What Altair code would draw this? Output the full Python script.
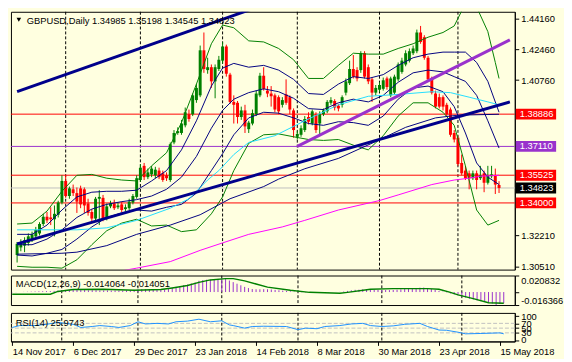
import altair as alt
import pandas as pd

# ---------------------------------------------------------------- data
bar_open = [1.3113, 1.3155, 1.3165, 1.3180, 1.3200, 1.3216, 1.3232, 1.3284, 1.3324, 1.3320,
            1.3310, 1.3335, 1.3402, 1.3521, 1.3438, 1.3475, 1.3454, 1.3480, 1.3475, 1.3397,
            1.3350, 1.3314, 1.3423, 1.3428, 1.3314, 1.3381, 1.3397, 1.3376, 1.3392, 1.3366,
            1.3371, 1.3402, 1.3433, 1.3526, 1.3604, 1.3542, 1.3557, 1.3552, 1.3578, 1.3563,
            1.3552, 1.3526, 1.3733, 1.3785, 1.3785, 1.3827, 1.3888, 1.3888, 1.3966, 1.3992,
            1.4240, 1.4131, 1.4147, 1.4069, 1.4137, 1.4183, 1.4261, 1.4106, 1.3956, 1.3951,
            1.3873, 1.3909, 1.3806, 1.3837, 1.3888, 1.3992, 1.4100, 1.4018, 1.4002, 1.3992,
            1.3982, 1.3940, 1.3997, 1.3982, 1.3909, 1.3764, 1.3775, 1.3801, 1.3873, 1.3837,
            1.3888, 1.3837, 1.3888, 1.3904, 1.3951, 1.3961, 1.3935, 1.3940, 1.4007, 1.4059,
            1.4137, 1.4131, 1.4131, 1.4224, 1.4147, 1.4080, 1.4007, 1.4023, 1.4028, 1.4085,
            1.3992, 1.4007, 1.4080, 1.4121, 1.4162, 1.4183, 1.4224, 1.4235, 1.4338, 1.4312,
            1.4199, 1.4085, 1.4002, 1.3982, 1.3982, 1.3940, 1.3914, 1.3785, 1.3759, 1.3620,
            1.3578, 1.3563, 1.3536, 1.3563, 1.3536, 1.3563, 1.3511, 1.3547, 1.3552, 1.34985]
bar_high = [1.3185, 1.3200, 1.3211, 1.3232, 1.3242, 1.3268, 1.3294, 1.3340, 1.3350, 1.3376,
            1.3386, 1.3412, 1.3552, 1.3552, 1.3490, 1.3501, 1.3485, 1.3495, 1.3485, 1.3423,
            1.3366, 1.3433, 1.3470, 1.3444, 1.3397, 1.3412, 1.3418, 1.3402, 1.3407, 1.3392,
            1.3423, 1.3449, 1.3552, 1.3614, 1.3620, 1.3589, 1.3604, 1.3599, 1.3594, 1.3578,
            1.3568, 1.3733, 1.3801, 1.3816, 1.3857, 1.3925, 1.3914, 1.4002, 1.4054, 1.4266,
            1.4338, 1.4199, 1.4162, 1.4162, 1.4209, 1.4286, 1.4271, 1.4116, 1.3992, 1.3961,
            1.3930, 1.3940, 1.3852, 1.3914, 1.4018, 1.4116, 1.4147, 1.4043, 1.4043, 1.4002,
            1.3992, 1.3982, 1.4080, 1.3992, 1.3920, 1.3795, 1.3827, 1.3878, 1.3899, 1.3914,
            1.3899, 1.3904, 1.3920, 1.3966, 1.3982, 1.3971, 1.3945, 1.3992, 1.4085, 1.4183,
            1.4214, 1.4147, 1.4235, 1.4235, 1.4162, 1.4090, 1.4049, 1.4064, 1.4090, 1.4095,
            1.4095, 1.4106, 1.4173, 1.4199, 1.4240, 1.4250, 1.4266, 1.4354, 1.4374, 1.4323,
            1.4209, 1.4095, 1.4018, 1.4002, 1.3992, 1.3951, 1.3925, 1.3801, 1.3770, 1.3666,
            1.3604, 1.3578, 1.3578, 1.3578, 1.3604, 1.3578, 1.3604, 1.3604, 1.3589, 1.35198]
bar_low = [1.3072, 1.3134, 1.3129, 1.3165, 1.3185, 1.3206, 1.3221, 1.3273, 1.3289, 1.3278,
           1.3216, 1.3320, 1.3392, 1.3428, 1.3423, 1.3438, 1.3345, 1.3371, 1.3345, 1.3330,
           1.3299, 1.3304, 1.3278, 1.3299, 1.3304, 1.3371, 1.3361, 1.3366, 1.3350, 1.3355,
           1.3361, 1.3392, 1.3423, 1.3516, 1.3526, 1.3531, 1.3542, 1.3536, 1.3531, 1.3516,
           1.3521, 1.3516, 1.3723, 1.3775, 1.3775, 1.3816, 1.3847, 1.3878, 1.3951, 1.3982,
           1.4116, 1.4111, 1.4033, 1.3976, 1.4126, 1.4168, 1.4095, 1.3945, 1.3837, 1.3837,
           1.3857, 1.3785, 1.3785, 1.3827, 1.3878, 1.3982, 1.4018, 1.3982, 1.3930, 1.3899,
           1.3888, 1.3925, 1.3940, 1.3888, 1.3759, 1.3749, 1.3764, 1.3790, 1.3832, 1.3827,
           1.3785, 1.3775, 1.3878, 1.3894, 1.3940, 1.3909, 1.3904, 1.3925, 1.3992, 1.4049,
           1.4085, 1.4069, 1.4116, 1.4085, 1.4054, 1.3956, 1.3992, 1.4012, 1.4018, 1.4023,
           1.3982, 1.3997, 1.4069, 1.4111, 1.4152, 1.4173, 1.4214, 1.4224, 1.4276, 1.4188,
           1.4069, 1.3997, 1.3920, 1.3920, 1.3909, 1.3878, 1.3764, 1.3733, 1.3604, 1.3552,
           1.3526, 1.3475, 1.3526, 1.3475, 1.3526, 1.3459, 1.3501, 1.3536, 1.3449, 1.34545]
bar_close = [1.3175, 1.3185, 1.3195, 1.3216, 1.3227, 1.3252, 1.3284, 1.3324, 1.3304, 1.3310,
             1.3340, 1.3402, 1.3521, 1.3438, 1.3480, 1.3454, 1.3407, 1.3392, 1.3386, 1.3345,
             1.3314, 1.3423, 1.3433, 1.3314, 1.3381, 1.3397, 1.3371, 1.3386, 1.3361, 1.3376,
             1.3407, 1.3438, 1.3536, 1.3594, 1.3542, 1.3568, 1.3589, 1.3583, 1.3542, 1.3526,
             1.3536, 1.3723, 1.3785, 1.3795, 1.3837, 1.3899, 1.3862, 1.3992, 1.4033, 1.4240,
             1.4137, 1.4147, 1.4069, 1.4147, 1.4188, 1.4261, 1.4111, 1.3956, 1.3940, 1.3873,
             1.3909, 1.3821, 1.3842, 1.3894, 1.4002, 1.4100, 1.4028, 1.4002, 1.3987, 1.3914,
             1.3904, 1.3966, 1.3951, 1.3914, 1.3801, 1.3780, 1.3811, 1.3862, 1.3847, 1.3904,
             1.3801, 1.3888, 1.3909, 1.3956, 1.3966, 1.3925, 1.3920, 1.3982, 1.4069, 1.4137,
             1.4095, 1.4085, 1.4224, 1.4095, 1.4069, 1.4007, 1.4033, 1.4049, 1.4075, 1.4038,
             1.4085, 1.4095, 1.4162, 1.4183, 1.4224, 1.4235, 1.4250, 1.4338, 1.4286, 1.4199,
             1.4080, 1.4007, 1.3930, 1.3930, 1.3930, 1.3888, 1.3775, 1.3749, 1.3614, 1.3563,
             1.3536, 1.3536, 1.3563, 1.3526, 1.3552, 1.3511, 1.3552, 1.3557, 1.3501, 1.34823]

band_idx = [0, 4, 8, 12, 16, 20, 24, 28, 32, 36, 40, 44, 48, 52, 55, 58, 62, 66, 70, 74,
            78, 82, 86, 90, 94, 98, 102, 106, 110, 114, 117, 120, 123, 126, 129]
gup_idx = band_idx[:-1] + [128, 129]
bb_green_up = [1.3284, 1.3289, 1.3355, 1.3464, 1.3552, 1.3557, 1.3536, 1.3526, 1.3521, 1.3604,
               1.3676, 1.3842, 1.4054, 1.4276, 1.4379, 1.4364, 1.4292, 1.4286, 1.4250, 1.4188,
               1.4085, 1.4085, 1.4157, 1.4224, 1.4219, 1.4219, 1.4250, 1.4276, 1.4312, 1.4338,
               1.4374, 1.4498, 1.4478, 1.4343, 1.4173, 1.4085]
bb_navy_up = [1.3227, 1.3227, 1.3278, 1.3361, 1.3433, 1.3459, 1.3464, 1.3464, 1.3470, 1.3521,
              1.3578, 1.3692, 1.3852, 1.4043, 1.4142, 1.4168, 1.4147, 1.4157, 1.4131, 1.4080,
              1.4002, 1.3997, 1.4054, 1.4095, 1.4085, 1.4106, 1.4157, 1.4199, 1.4219, 1.4230,
              1.4230, 1.4230, 1.4173, 1.4069, 1.3899]
bb_mid = [1.3170, 1.3170, 1.3201, 1.3252, 1.3320, 1.3366, 1.3392, 1.3407, 1.3418, 1.3438,
          1.3475, 1.3542, 1.3656, 1.3811, 1.3909, 1.3971, 1.4007, 1.4028, 1.4012, 1.3976,
          1.3919, 1.3914, 1.3951, 1.3971, 1.3956, 1.3992, 1.4064, 1.4116, 1.4131, 1.4121,
          1.4095, 1.4069, 1.3992, 1.3852, 1.3702]
bb_navy_lo = [1.3113, 1.3108, 1.3123, 1.3144, 1.3201, 1.3268, 1.3320, 1.3345, 1.3361, 1.3355,
              1.3376, 1.3392, 1.3454, 1.3578, 1.3671, 1.3775, 1.3868, 1.3899, 1.3894, 1.3868,
              1.3837, 1.3827, 1.3847, 1.3842, 1.3827, 1.3878, 1.3971, 1.4033, 1.4043, 1.4012,
              1.3930, 1.3785, 1.3620, 1.3542, 1.3501]
bb_green_lo = [1.3051, 1.3046, 1.3046, 1.3041, 1.3087, 1.3170, 1.3247, 1.3289, 1.3310, 1.3273,
               1.3278, 1.3242, 1.3252, 1.3340, 1.3433, 1.3578, 1.3728, 1.3775, 1.3780, 1.3764,
               1.3749, 1.3744, 1.3749, 1.3718, 1.3692, 1.3770, 1.3878, 1.3951, 1.3951, 1.3899,
               1.3827, 1.3604, 1.3361, 1.3278, 1.3304]

cyan_idx = [0, 16, 24, 32, 41, 46, 51, 54, 58, 62, 69, 77, 86, 94, 102, 111, 116, 121, 126, 129]
ma_cyan = [1.3252, 1.3252, 1.3263, 1.3304, 1.3371, 1.3423, 1.3526, 1.3578, 1.3666, 1.3733,
           1.3770, 1.3852, 1.3940, 1.3987, 1.3997, 1.4012, 1.4007, 1.3982, 1.3956, 1.3940]
navy_ma_idx = [0, 12, 16, 24, 32, 41, 49, 57, 66, 70, 77, 86, 96, 104, 112, 118, 129]
ma_navy = [1.3118, 1.3123, 1.3129, 1.3165, 1.3227, 1.3278, 1.3335, 1.3423, 1.3490, 1.3531,
           1.3588, 1.3645, 1.3738, 1.3816, 1.3868, 1.3883, 1.3888]
mag_idx = [25, 32, 41, 49, 55, 62, 71, 77, 86, 97, 102, 111, 117, 121, 124, 129]
ma_magenta = [1.3015, 1.3041, 1.3077, 1.3139, 1.3180, 1.3227, 1.3268, 1.3304, 1.3361, 1.3413,
              1.3444, 1.3501, 1.3526, 1.3536, 1.3547, 1.3552]

trend_name = ["low", "low", "high", "high", "violet", "violet"]
trend_i = [0, 131.9, 0, 70, 75, 131.9]
trend_v = [1.3175, 1.3956, 1.4012, 1.4519, 1.3711, 1.4297]

levels = [1.38886, 1.37110, 1.35525, 1.34823, 1.34000]
level_line_col = ["#FF0000", "#9932CC", "#FF0000", "#C0C0C0", "#FF0000"]
level_box_col = ["#FF0000", "#9932CC", "#FF0000", "#000000", "#FF0000"]
price_ticks = [1.4416, 1.4246, 1.4076, 1.3221, 1.3051]

macd_main = [-0.0003, -0.0002, 0.0000, 0.0002, 0.0004,
             0.0005, 0.0007, 0.0009, 0.0010, 0.0011,
             0.0012, 0.0014, 0.0020, 0.0023, 0.0026,
             0.0028, 0.0028, 0.0027, 0.0026, 0.0025,
             0.0022, 0.0023, 0.0023, 0.0020, 0.0020,
             0.0020, 0.0019, 0.0019, 0.0018, 0.0018,
             0.0020, 0.0023, 0.0028, 0.0033, 0.0035,
             0.0036, 0.0037, 0.0038, 0.0037, 0.0035,
             0.0034, 0.0045, 0.0055, 0.0065, 0.0075,
             0.0088, 0.0095, 0.0108, 0.0120, 0.0142,
             0.0150, 0.0155, 0.0156, 0.0160, 0.0165,
             0.0169, 0.0165, 0.0145, 0.0125, 0.0105,
             0.0085, 0.0065, 0.0050, 0.0038, 0.0035,
             0.0035, 0.0036, 0.0035, 0.0032, 0.0027,
             0.0022, 0.0018, 0.0014, 0.0010, 0.0006,
             0.0001, -0.0003, -0.0004, -0.0005, -0.0004,
             -0.0006, -0.0006, -0.0005, -0.0003, -0.0001,
             0.0001, 0.0002, 0.0007, 0.0014, 0.0022,
             0.0028, 0.0030, 0.0035, 0.0035, 0.0033,
             0.0029, 0.0027, 0.0025, 0.0025, 0.0024,
             0.0026, 0.0029, 0.0034, 0.0039, 0.0044,
             0.0048, 0.0051, 0.0055, 0.0056, 0.0050,
             0.0038, 0.0026, 0.0014, 0.0005, -0.0004,
             -0.0018, -0.0028, -0.0040, -0.0055, -0.0070,
             -0.0083, -0.0094, -0.0105, -0.0115, -0.0126,
             -0.0134, -0.0145, -0.0164, -0.0150, -0.014064]
sig_idx = [0, 10, 12, 16, 24, 32, 39, 42, 46, 49, 52, 56, 58, 61, 64, 67, 73, 78, 86, 88,
           94, 100, 109, 112, 115, 117, 121, 125, 129]
macd_signal = [-0.0028, -0.0028, 0.0008, 0.0031, 0.0035, 0.0023, 0.0031, 0.0051, 0.0082, 0.0122,
               0.0153, 0.0169, 0.0169, 0.0141, 0.0102, 0.0062, 0.0023, -0.0004, -0.0016, -0.0004,
               0.0035, 0.0043, 0.0043, 0.0035, -0.0004, -0.0036, -0.0083, -0.0134, -0.014051]
macd_ticks = [0.020832, 0.0, -0.016366]
macd_tick_txt = ["0.020832", "0.00", "-0.016366"]

rsi_idx = [0, 2, 6, 9, 12, 16, 18, 21, 23, 26, 28, 31, 33, 35, 38, 41, 43, 46, 49, 52,
           55, 57, 58, 61, 63, 66, 72, 75, 77, 80, 82, 86, 89, 92, 94, 97, 100, 103, 107, 109,
           112, 114, 117, 119, 123, 128, 129]
rsi_val = [52.8, 60.8, 60.8, 66.0, 74.0, 66.0, 52.8, 56.8, 60.8, 56.8, 52.8, 60.8, 76.8, 67.5,
           70.0, 67.5, 76.8, 79.5, 87.5, 76.8, 80.8, 63.5, 60.8, 50.0, 56.8, 58.0, 56.8, 43.5,
           50.0, 47.5, 56.8, 60.8, 67.5, 70.0, 60.8, 56.8, 59.5, 66.0, 70.0, 56.8, 42.0, 41.0,
           32.8, 26.0, 27.5, 30.0, 25.97]
rsi_levels = [70, 50, 30]
rsi_ticks = [100, 70, 50, 30, 0]

sep_idx = [13, 33, 55, 75, 97, 118]
date_idx = [0, 16, 32, 48, 64, 80, 96, 112, 128]
date_txt = ["14 Nov 2017", "6 Dec 2017", "29 Dec 2017", "23 Jan 2018", "14 Feb 2018",
            "8 Mar 2018", "30 Mar 2018", "23 Apr 2018", "15 May 2018"]

title_txt = "GBPUSD,Daily  1.34985 1.35198 1.34545 1.34823"
macd_txt = "MACD(12,26,9) -0.014064 -0.014051"
rsi_txt = "RSI(14) 25.9743"

# ---------------------------------------------------------------- style
W = 512
H_MAIN = 262
H_MACD = 30
H_RSI = 29
BG = "#FFFFE0"
FONT = "Liberation Sans"
FS = 9.5
GREEN = "#008000"
RED = "#FF0000"
NAVY = "#000080"
BOX_PATH = "M-1,-0.27L1,-0.27L1,0.27L-1,0.27Z"

xs = alt.Scale(domain=[-0.33, 131.9], nice=False, zero=False)
ys = alt.Scale(domain=[1.3033, 1.4452], nice=False, zero=False)
ms = alt.Scale(domain=[-0.016366, 0.020832], nice=False, zero=False)
rs = alt.Scale(domain=[-6, 114], nice=False, zero=False)

X = alt.X("i:Q", scale=xs, axis=None)

yax = alt.Axis(values=price_ticks, format=".5f", orient="right", tickSize=4, tickColor="black",
               domainColor="black", labelColor="black", labelFont=FONT, labelFontSize=FS,
               labelPadding=2, grid=False, title=None)

# ---------------------------------------------------------------- main panel
bars = pd.DataFrame({"i": list(range(len(bar_open))), "o": bar_open, "h": bar_high,
                     "l": bar_low, "c": bar_close})
ccol = alt.condition("datum.c >= datum.o", alt.value(GREEN), alt.value(RED))

wick = alt.Chart(bars).mark_rule(strokeWidth=1).encode(
    x=X, y=alt.Y("l:Q", scale=ys, axis=yax), y2="h:Q", color=ccol)
body = alt.Chart(bars).mark_bar(size=3).encode(
    x=X, y=alt.Y("o:Q", scale=ys, axis=yax), y2="c:Q", color=ccol)


def series(name, idx, vals, col):
    return pd.DataFrame({"i": idx, "v": vals, "s": name, "col": col})


ind = pd.concat([
    series("gup", gup_idx, bb_green_up, GREEN),
    series("nup", band_idx, bb_navy_up, NAVY),
    series("mid", band_idx, bb_mid, NAVY),
    series("nlo", band_idx, bb_navy_lo, NAVY),
    series("glo", band_idx, bb_green_lo, GREEN),
    series("cyan", cyan_idx, ma_cyan, "#22DDFF"),
    series("navyma", navy_ma_idx, ma_navy, NAVY),
    series("mag", mag_idx, ma_magenta, "#FF00FF"),
], ignore_index=True)

ind_lines = alt.Chart(ind).mark_line(strokeWidth=1, clip=True).encode(
    x=X, y=alt.Y("v:Q", scale=ys, axis=yax),
    color=alt.Color("col:N", scale=None), detail="s:N")

tr = pd.DataFrame({"i": trend_i, "v": trend_v, "s": trend_name,
                   "col": ["#00008B", "#00008B", "#00008B", "#00008B", "#9932CC", "#9932CC"]})
trend = alt.Chart(tr).mark_line(strokeWidth=3, clip=True).encode(
    x=X, y=alt.Y("v:Q", scale=ys, axis=yax),
    color=alt.Color("col:N", scale=None), detail="s:N")

lev = pd.DataFrame({"v": levels, "lc": level_line_col, "bc": level_box_col})
lev_rule = alt.Chart(lev).mark_rule(strokeWidth=1).encode(
    y=alt.Y("v:Q", scale=ys, axis=yax), color=alt.Color("lc:N", scale=None))
box = alt.Chart(lev).mark_point(shape=BOX_PATH, filled=True, size=1681, opacity=1,
                                strokeWidth=0).encode(
    x=alt.value(W + 21.5), y=alt.Y("v:Q", scale=ys, axis=yax),
    color=alt.Color("bc:N", scale=None))
box_txt = alt.Chart(lev).mark_text(align="left", baseline="middle", color="white",
                                   font=FONT, fontSize=FS).encode(
    x=alt.value(W + 5), y=alt.Y("v:Q", scale=ys, axis=yax),
    text=alt.Text("v:Q", format=".5f"))

sep_df = pd.DataFrame({"i": sep_idx})
sep_main = alt.Chart(sep_df).mark_rule(strokeDash=[3, 2], color="black", strokeWidth=1).encode(x=X)

ttl = alt.Chart(pd.DataFrame({"t": [title_txt]})).mark_text(
    align="left", baseline="middle", font=FONT, fontSize=FS, color="black").encode(
    x=alt.value(16), y=alt.value(9), text="t:N")
tri = alt.Chart(pd.DataFrame({"t": [0]})).mark_point(
    shape="triangle-down", filled=True, size=22, color="black", opacity=1).encode(
    x=alt.value(8), y=alt.value(8))

main = alt.layer(sep_main, lev_rule, wick, body, ind_lines, trend, box, box_txt, tri, ttl).properties(
    width=W, height=H_MAIN)

# ---------------------------------------------------------------- MACD panel
mlabel = ("datum.value > 0.01 ? '%s' : (datum.value < -0.01 ? '%s' : '%s')"
          % (macd_tick_txt[0], macd_tick_txt[2], macd_tick_txt[1]))
max_ = alt.Axis(values=macd_ticks, labelExpr=mlabel, orient="right", tickSize=4, tickColor="black",
                domainColor="black", labelColor="black", labelFont=FONT, labelFontSize=FS,
                labelPadding=2, grid=False, title=None,
                labelBaseline={"condition": [{"test": "datum.value > 0.01", "value": "top"},
                                             {"test": "datum.value < -0.01", "value": "bottom"}],
                               "value": "middle"})
mdf = pd.DataFrame({"i": list(range(len(macd_main))), "m": macd_main, "z": 0.0})
hist = alt.Chart(mdf).mark_rule(color="#9932CC", strokeWidth=1).encode(
    x=X, y=alt.Y("m:Q", scale=ms, axis=max_), y2="z:Q")
sdf = pd.DataFrame({"i": sig_idx, "v": macd_signal})
sig = alt.Chart(sdf).mark_line(color=GREEN, strokeWidth=1.5).encode(
    x=X, y=alt.Y("v:Q", scale=ms, axis=max_))
sep_macd = alt.Chart(sep_df).mark_rule(strokeDash=[3, 2], color="black", strokeWidth=1).encode(x=X)
mttl = alt.Chart(pd.DataFrame({"t": [macd_txt]})).mark_text(
    align="left", baseline="middle", font=FONT, fontSize=FS, color="black").encode(
    x=alt.value(5), y=alt.value(9), text="t:N")
macd_c = alt.layer(sep_macd, hist, sig, mttl).properties(width=W, height=H_MACD)

# ---------------------------------------------------------------- RSI panel
xlabel = "[%s][round(datum.value / 16)]" % ", ".join("'%s'" % t for t in date_txt)
xax = alt.Axis(values=date_idx, labelExpr=xlabel, labelAlign="left", labelFlush=False,
               tickSize=4, tickColor="black", domainColor="black", labelColor="black",
               labelFont=FONT, labelFontSize=FS, labelPadding=1, grid=False, title=None)
XR = alt.X("i:Q", scale=xs, axis=xax)
rax = alt.Axis(values=rsi_ticks, orient="right", tickSize=4, tickColor="black", domainColor="black",
               labelColor="black", labelFont=FONT, labelFontSize=FS, labelPadding=2,
               labelOverlap=False, grid=False, title=None)
rdf = pd.DataFrame({"i": rsi_idx, "v": rsi_val})
rline = alt.Chart(rdf).mark_line(color="#1E90FF", strokeWidth=1).encode(
    x=XR, y=alt.Y("v:Q", scale=rs, axis=rax))
rlev = alt.Chart(pd.DataFrame({"v": rsi_levels})).mark_rule(
    color="#C0C0C0", strokeDash=[4, 2], strokeWidth=1).encode(y=alt.Y("v:Q", scale=rs, axis=rax))
sep_rsi = alt.Chart(sep_df).mark_rule(strokeDash=[3, 2], color="black", strokeWidth=1).encode(x=XR)
rttl = alt.Chart(pd.DataFrame({"t": [rsi_txt]})).mark_text(
    align="left", baseline="middle", font=FONT, fontSize=FS, color="black").encode(
    x=alt.value(5), y=alt.value(10), text="t:N")
rsi_c = alt.layer(rlev, sep_rsi, rline, rttl).properties(width=W, height=H_RSI)

chart = alt.vconcat(main, macd_c, rsi_c, spacing=3).properties(
    background=BG, padding=0).configure_view(stroke="black", strokeWidth=1, fill=BG)

chart.save("out.html", embed_options={"renderer": "svg", "actions": False})
